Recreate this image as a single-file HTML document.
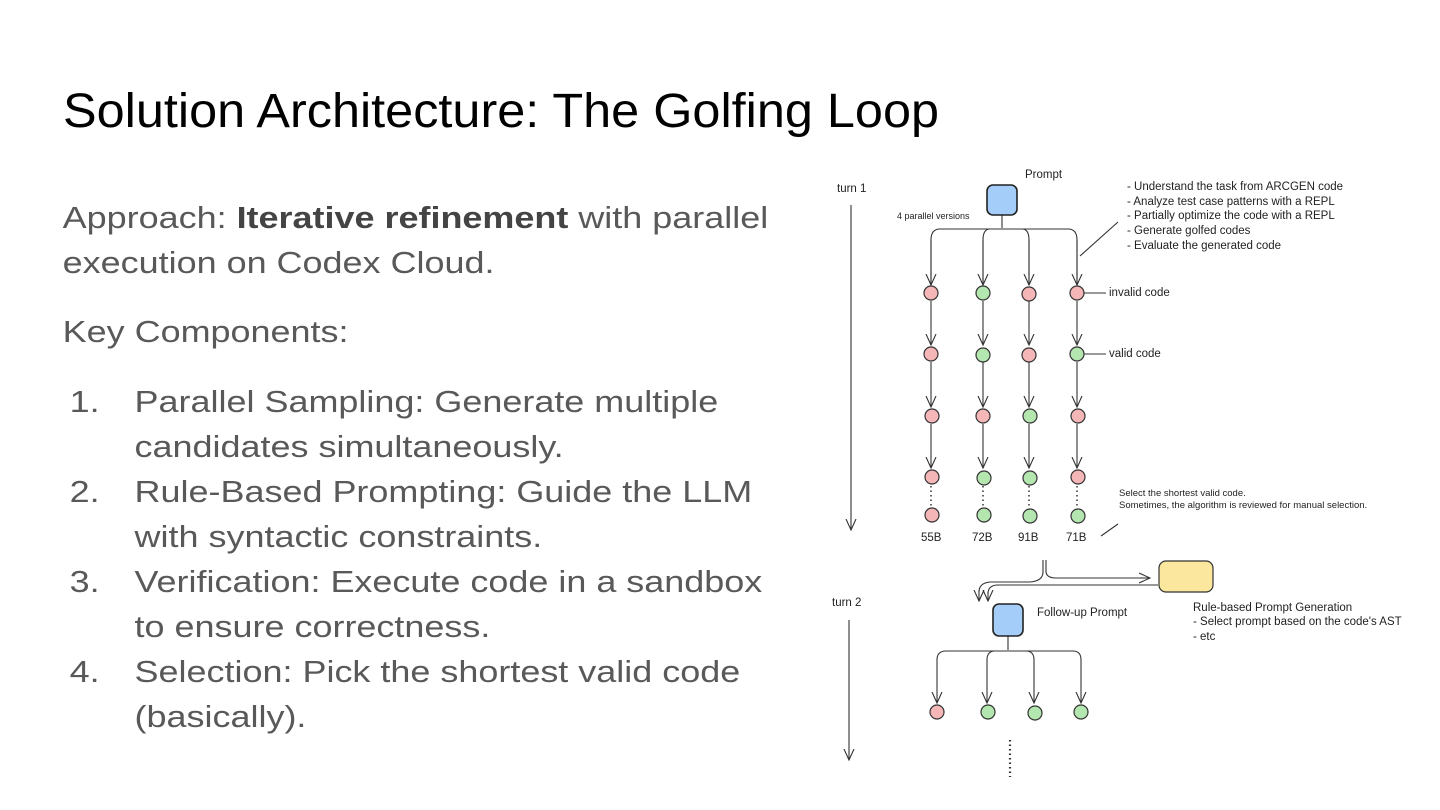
<!DOCTYPE html>
<html><head><meta charset="utf-8"><style>
body{margin:0;width:1440px;height:810px;background:#fff;overflow:hidden;position:relative;font-family:"Liberation Sans",Arial,sans-serif}
.t{position:absolute;left:63px;top:84px;font-size:48px;color:#000;white-space:nowrap;transform:scaleX(1.05);transform-origin:left}
.w{position:absolute;left:0;top:0;width:800px;height:810px;transform:scaleX(1.16);transform-origin:0 0}
.b{position:absolute;left:54px;font-size:31px;color:#595959;white-space:nowrap;line-height:45px}
.n{position:absolute;left:60px}
.i{position:absolute;left:116px}
svg{position:absolute;left:0;top:0}
svg text{font-family:"Liberation Sans",sans-serif;fill:#222}
</style></head><body>
<div class="t">Solution Architecture: The Golfing Loop</div>
<div class="w">
<div class="b" style="top:195px">Approach: <b style="color:#444">Iterative refinement</b> with parallel</div>
<div class="b" style="top:240px">execution on Codex Cloud.</div>
<div class="b" style="top:309px">Key Components:</div>
<div class="b" style="top:379px;left:0;width:700px">
<div class="n" style="top:0">1.</div><div class="i" style="top:0">Parallel Sampling: Generate multiple</div>
<div class="i" style="top:45px">candidates simultaneously.</div>
<div class="n" style="top:90px">2.</div><div class="i" style="top:90px">Rule-Based Prompting: Guide the LLM</div>
<div class="i" style="top:135px">with syntactic constraints.</div>
<div class="n" style="top:180px">3.</div><div class="i" style="top:180px">Verification: Execute code in a sandbox</div>
<div class="i" style="top:225px">to ensure correctness.</div>
<div class="n" style="top:270px">4.</div><div class="i" style="top:270px">Selection: Pick the shortest valid code</div>
<div class="i" style="top:315px">(basically).</div>
</div>
</div>
<svg width="1440" height="810" viewBox="0 0 1440 810">
<defs>
<marker id="h" markerWidth="12" markerHeight="12" refX="11" refY="6" orient="auto" markerUnits="userSpaceOnUse"><path d="M0,1 L11,6 L0,11" fill="none" stroke="#333" stroke-width="1.1"/></marker></defs>
<g font-size="11.5">
<text x="1025" y="178">Prompt</text>
<text x="837" y="192">turn 1</text>
<text x="897" y="219" font-size="9">4 parallel versions</text>
<text x="1127" y="190">- Understand the task from ARCGEN code</text>
<text x="1127" y="205">- Analyze test case patterns with a REPL</text>
<text x="1127" y="219">- Partially optimize the code with a REPL</text>
<text x="1127" y="234">- Generate golfed codes</text>
<text x="1127" y="249">- Evaluate the generated code</text>
<text x="1109" y="296">invalid code</text>
<text x="1109" y="357">valid code</text>
<text x="1119" y="496" font-size="9.5">Select the shortest valid code.</text>
<text x="1119" y="508" font-size="9.5">Sometimes, the algorithm is reviewed for manual selection.</text>
<text x="921" y="541">55B</text><text x="972" y="541">72B</text><text x="1018" y="541">91B</text><text x="1066" y="541">71B</text>
<text x="832" y="606">turn 2</text>
<text x="1037" y="616">Follow-up Prompt</text>
<text x="1193" y="611">Rule-based Prompt Generation</text>
<text x="1193" y="625">- Select prompt based on the code's AST</text>
<text x="1193" y="640">- etc</text>
</g>
<g stroke="#333" fill="none" stroke-width="1.1">
<line x1="851" y1="205" x2="851" y2="530" marker-end="url(#h)"/>
<line x1="849" y1="620" x2="849" y2="760" marker-end="url(#h)"/>
<path d="M1002,215 V228 M940,229 H1068"/>
<path d="M931,285 V240 Q931,229 940,229 M1077,285 V240 Q1077,229 1068,229 M983,285 V240 Q983,229 990,229 M1029,285 V240 Q1029,229 1022,229"/>
<line x1="931" y1="240" x2="931" y2="285" marker-end="url(#h)"/>
<line x1="983" y1="240" x2="983" y2="285" marker-end="url(#h)"/>
<line x1="1029" y1="240" x2="1029" y2="285" marker-end="url(#h)"/>
<line x1="1077" y1="240" x2="1077" y2="285" marker-end="url(#h)"/>
<line x1="1080" y1="256" x2="1118" y2="222"/>
<line x1="1084" y1="293" x2="1106" y2="293"/>
<line x1="1084" y1="354" x2="1106" y2="354"/>
<line x1="1101" y1="536" x2="1118" y2="524"/>
<path d="M1043,560 V572 Q1043,581 1030,582 H990 Q979,583 979,592"/>
<line x1="979" y1="590" x2="979" y2="601" marker-end="url(#h)"/>
<path d="M1046,560 V571 Q1046,578 1056,578 H1150"/>
<line x1="1140" y1="578" x2="1150" y2="578" marker-end="url(#h)"/>
<path d="M1158,585 H998 Q988,585 988,594"/>
<line x1="988" y1="592" x2="988" y2="601" marker-end="url(#h)"/>
<path d="M1008,636 V650 M946,651 H1073 M937,660 Q937,651 946,651 M1081,660 Q1081,651 1073,651 M987,660 Q987,651 995,651 M1034,660 Q1034,651 1026,651"/>
<line x1="937" y1="660" x2="937" y2="703" marker-end="url(#h)"/>
<line x1="987" y1="660" x2="987" y2="703" marker-end="url(#h)"/>
<line x1="1034" y1="660" x2="1034" y2="703" marker-end="url(#h)"/>
<line x1="1081" y1="660" x2="1081" y2="703" marker-end="url(#h)"/>
</g>
<g stroke="#333" stroke-width="1.1">
<line x1="931" y1="301" x2="931" y2="345" marker-end="url(#h)"/><line x1="983" y1="301" x2="983" y2="345" marker-end="url(#h)"/><line x1="1029" y1="301" x2="1029" y2="345" marker-end="url(#h)"/><line x1="1077" y1="301" x2="1077" y2="345" marker-end="url(#h)"/>
<line x1="931" y1="362" x2="931" y2="407" marker-end="url(#h)"/><line x1="983" y1="362" x2="983" y2="407" marker-end="url(#h)"/><line x1="1029" y1="362" x2="1029" y2="407" marker-end="url(#h)"/><line x1="1077" y1="362" x2="1077" y2="407" marker-end="url(#h)"/>
<line x1="931" y1="424" x2="931" y2="468" marker-end="url(#h)"/><line x1="983" y1="424" x2="983" y2="468" marker-end="url(#h)"/><line x1="1029" y1="424" x2="1029" y2="468" marker-end="url(#h)"/><line x1="1077" y1="424" x2="1077" y2="468" marker-end="url(#h)"/>
</g>
<g stroke="#333" stroke-width="1.5" stroke-dasharray="1.5,3">
<line x1="931" y1="486" x2="931" y2="507"/><line x1="983" y1="486" x2="983" y2="507"/><line x1="1029" y1="486" x2="1029" y2="507"/><line x1="1077" y1="486" x2="1077" y2="507"/>
<line x1="1010" y1="740" x2="1010" y2="777" stroke-width="2.2"/>
</g>
<g stroke="#333" stroke-width="1.2">
<circle cx="931" cy="293" r="7" fill="#f4b6b6"/><circle cx="983" cy="293" r="7" fill="#b4e6b0"/><circle cx="1029" cy="294" r="7" fill="#f4b6b6"/><circle cx="1077" cy="293" r="7" fill="#f4b6b6"/>
<circle cx="931" cy="354" r="7" fill="#f4b6b6"/><circle cx="983" cy="355" r="7" fill="#b4e6b0"/><circle cx="1029" cy="355" r="7" fill="#f4b6b6"/><circle cx="1077" cy="354" r="7" fill="#b4e6b0"/>
<circle cx="932" cy="416" r="7" fill="#f4b6b6"/><circle cx="983" cy="416" r="7" fill="#f4b6b6"/><circle cx="1030" cy="416" r="7" fill="#b4e6b0"/><circle cx="1078" cy="416" r="7" fill="#f4b6b6"/>
<circle cx="932" cy="477" r="7" fill="#f4b6b6"/><circle cx="984" cy="478" r="7" fill="#b4e6b0"/><circle cx="1030" cy="478" r="7" fill="#b4e6b0"/><circle cx="1078" cy="477" r="7" fill="#f4b6b6"/>
<circle cx="932" cy="515" r="7" fill="#f4b6b6"/><circle cx="984" cy="515" r="7" fill="#b4e6b0"/><circle cx="1030" cy="516" r="7" fill="#b4e6b0"/><circle cx="1078" cy="516" r="7" fill="#b4e6b0"/>
<circle cx="937" cy="712" r="7" fill="#f4b6b6"/><circle cx="988" cy="712" r="7" fill="#b4e6b0"/><circle cx="1035" cy="713" r="7" fill="#b4e6b0"/><circle cx="1081" cy="712" r="7" fill="#b4e6b0"/>
<rect x="987" y="185" width="30" height="30" rx="6" fill="#a5cdfa" stroke="#222" stroke-width="1.6"/>
<rect x="993" y="604" width="30" height="32" rx="6" fill="#a5cdfa" stroke="#222" stroke-width="1.6"/>
<rect x="1159" y="561" width="54" height="31" rx="7" fill="#fbe79e" stroke="#333"/>
</g>
</svg>
</body></html>
